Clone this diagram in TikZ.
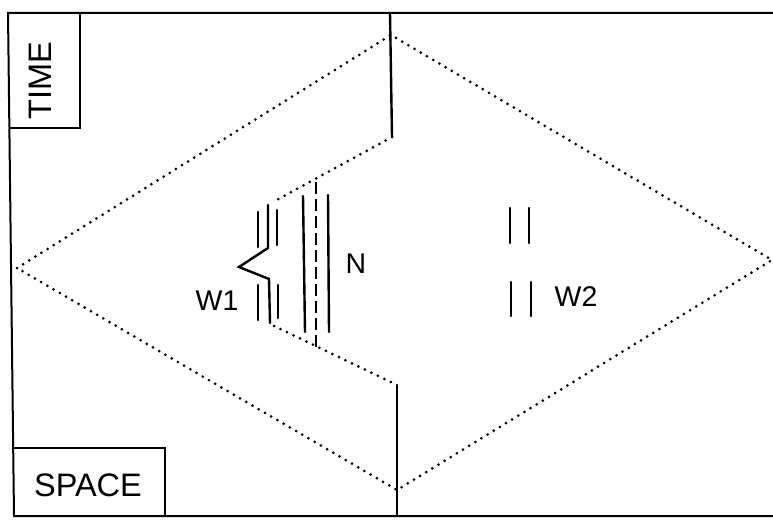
\documentclass[tikz,border=0pt]{standalone}
\usepackage{fontspec}
\setmainfont{Liberation Sans}
\begin{document}
\begin{tikzpicture}[x=1pt,y=-1pt,
  frame/.style={line width=2pt},
  solidline/.style={line width=2.4pt, line cap=round},
  dots/.style={line width=3pt, line cap=round, dash pattern=on 0pt off 7.2pt},
  lbl/.style={font=\fontsize{28.5}{28.5}\selectfont, inner sep=0pt},
  big/.style={font=\fontsize{32.5}{32.5}\selectfont, inner sep=0pt}]
\useasboundingbox (0,0) rectangle (773,519);
\fill[white] (0,0) rectangle (773,519);
% frame and boxes
\draw[frame] (773,13) -- (8,13) -- (14,516) -- (773,516);
\draw[frame] (80,13) -- (80,128) -- (9,128);
\draw[frame] (14,448) -- (165,448) -- (165,516);
\node[big, rotate=90] (time) at (40,81) {TIME};
\node[big] (space) at (88,485) {SPACE};
% diamond
\coordinate (L) at (17,268);
\coordinate (T) at (391,35);
\coordinate (R) at (772,260);
\coordinate (B) at (397,490);
\draw[dots] (L) -- (T) -- (R) -- (B) -- cycle;
% broken vertical boundary
\coordinate (vt) at (390,13);
\coordinate (vk) at (392,137);
\coordinate (wa) at (273,202);
\coordinate (wb) at (274,326);
\coordinate (vm) at (397,385);
\coordinate (vb) at (397,516);
\draw[solidline] (vt) -- (vk);
\draw[dots] (vk) -- (wa);
\draw[dots] (wb) -- (vm);
\draw[solidline] (vm) -- (vb);
% W1
\draw[solidline] (258,212) -- (258,247);
\draw[solidline] (258,285) -- (258,320);
\draw[solidline, line join=miter] (268,205) -- (268,248) -- (239,267) -- (269,279) -- (270,323);
\draw[solidline] (277,210) -- (277,245);
\draw[solidline] (278,285) -- (278,318);
% N
\draw[solidline] (303,196) -- (305,332);
\draw[line width=2.4pt, dash pattern=on 12pt off 5pt] (316,182) -- (316,348);
\draw[solidline] (328,195) -- (329,332);
% W2
\draw[solidline] (510,208) -- (510,243);
\draw[solidline] (529,208) -- (529,243);
\draw[solidline] (511,282) -- (511,316);
\draw[solidline] (531,282) -- (531,316);
% labels
\node[lbl] (w1) at (217,301) {W1};
\node[lbl] (n) at (356,264) {N};
\node[lbl] (w2) at (576,297) {W2};
\end{tikzpicture}
\end{document}
